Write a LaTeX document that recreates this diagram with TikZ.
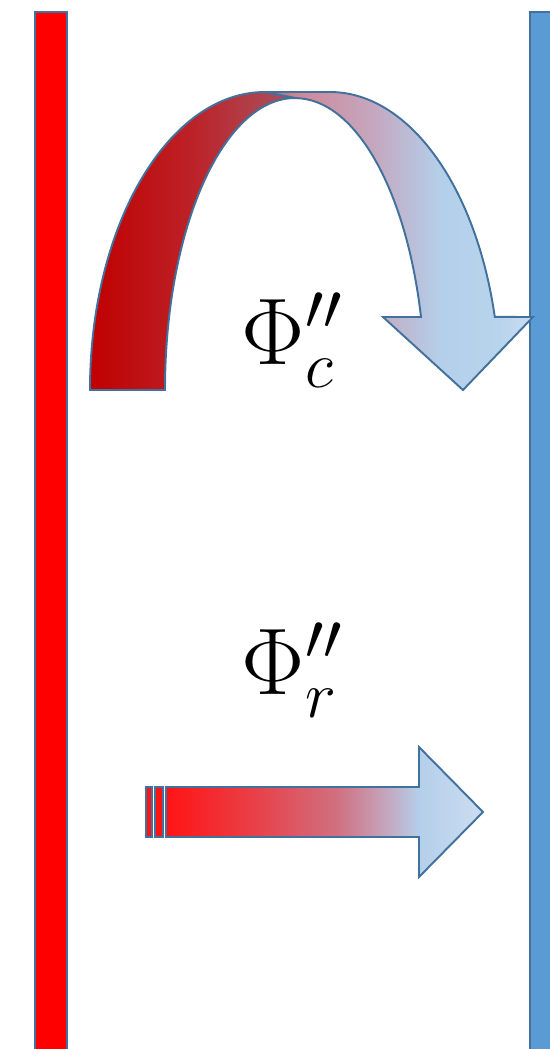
\documentclass[tikz,border=0pt]{standalone}
\usepackage{tikz}
\usetikzlibrary{calc}
\definecolor{wallred}{HTML}{FF0000}
\definecolor{wallblue}{HTML}{5B9BD5}
\definecolor{edgeblue}{HTML}{41719C}
\definecolor{darkA}{HTML}{C00000}
\definecolor{darkB}{HTML}{BC2228}
\definecolor{darkC}{HTML}{A85462}
\definecolor{pinkA}{HTML}{B85868}
\definecolor{pinkB}{HTML}{CE8898}
\definecolor{mauve}{HTML}{C4A8C0}
\definecolor{skyA}{HTML}{B4CFEA}
\definecolor{skyB}{HTML}{B8D4EC}
\definecolor{skyC}{HTML}{CCDDF1}
\definecolor{hotA}{HTML}{FF1414}
\definecolor{hotB}{HTML}{E84048}
\definecolor{hotC}{HTML}{D07080}
\pgfdeclarehorizontalshading{arcleft}{100bp}{color(0bp)=(darkA); color(25bp)=(darkA);
  color(50bp)=(darkB); color(75bp)=(darkC); color(100bp)=(darkC)}
\pgfdeclarehorizontalshading{arcright}{100bp}{color(0bp)=(pinkA); color(25bp)=(pinkA);
  color(32bp)=(pinkB); color(46bp)=(mauve); color(58bp)=(skyA); color(69bp)=(skyB);
  color(75bp)=(skyC); color(100bp)=(skyC)}
\pgfdeclarehorizontalshading{beam}{100bp}{color(0bp)=(hotA); color(25bp)=(hotA);
  color(39bp)=(hotB); color(52bp)=(hotC); color(60bp)=(mauve); color(65bp)=(skyA);
  color(75bp)=(skyC); color(100bp)=(skyC)}

\begin{document}
\begin{tikzpicture}[x=0.02cm, y=-0.02cm,
  wall/.style={draw=edgeblue, line width=1.5pt},
  flow/.style={draw=edgeblue, line width=1.1pt, line join=miter, shade},
  fluxlabel/.style={font=\huge, inner sep=0pt, scale=2.6, anchor=base west}]
\useasboundingbox (0,0) rectangle (549,1049);
\path[wall, fill=wallred] (35,12) rectangle (67,1070);
\path[wall, fill=wallblue] (530,12) rectangle (570,1070);
% convection arc
\path[flow, shading=arcright] (260,92) -- (330,92)
  arc[start angle=270, end angle=345.8, x radius=170, y radius=298]
  -- (533,317) -- (463,390) -- (383,317) -- (421,317)
  arc[start angle=345.5, end angle=270, x radius=130, y radius=292] -- cycle;
\path[flow, shading=arcleft] (90,390)
  arc[start angle=180, end angle=270, x radius=175, y radius=298]
  -- (295,98)
  arc[start angle=270, end angle=180, x radius=130, y radius=292] -- cycle;
\node[fluxlabel] (convlabel) at (241,364) {$\Phi''_c$};
% radiation arrow
\node[fluxlabel] (radlabel) at (241,694) {$\Phi''_r$};
\path[flow, shading=beam] (166,787) -- (419,787) -- (419,747) -- (483,812)
  -- (419,877) -- (419,837) -- (166,837) -- cycle;
\path[draw=edgeblue, line width=1.1pt, fill=hotA] (146,787) rectangle (152,837);
\path[draw=edgeblue, line width=1.1pt, fill=hotA] (155,787) rectangle (163,837);
\end{tikzpicture}
\end{document}
